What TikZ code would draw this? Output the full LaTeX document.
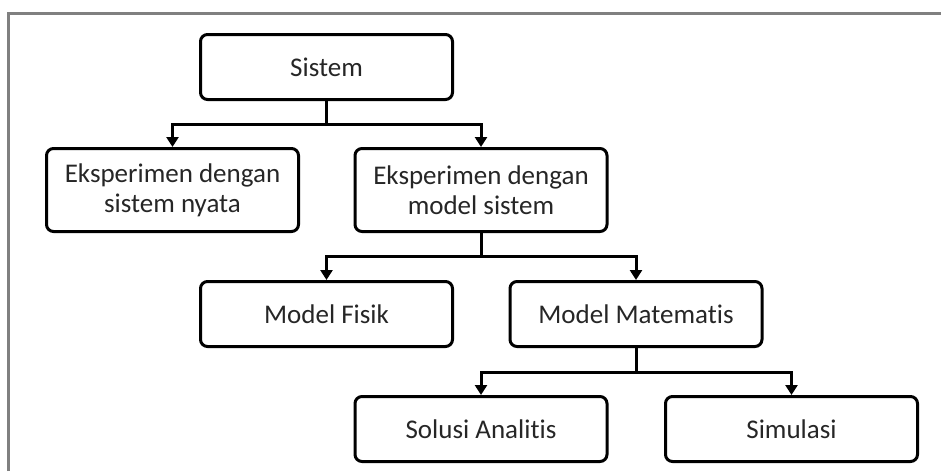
\documentclass[tikz,border=0pt]{standalone}
\usepackage{fontspec}
\setmainfont[Ligatures={NoCommon}]{Carlito}
\usetikzlibrary{arrows.meta}
\begin{document}
\begin{tikzpicture}[x=1pt,y=1pt,
  box/.style={draw=black, line width=3pt, rounded corners=7pt, minimum width=252pt,
    inner sep=0pt, align=center, text=black!85, font=\fontsize{27}{30}\selectfont},
  conn/.style={line width=3pt, -{Triangle[width=12pt,length=10pt]}},
  stem/.style={line width=3pt}]
\useasboundingbox (0,0) rectangle (941,-471);
\draw[line width=3pt, draw=black!50] (8.5,-471) -- (8.5,-13.5) -- (941,-13.5);
\node[box, minimum height=65pt] (sistem) at (326.5,-67) {Sistem};
\node[box, minimum height=83pt] (nyata) at (172.5,-190) {Eksperimen dengan\\sistem nyata};
\node[box, minimum height=83pt] (model) at (481,-190) {Eksperimen dengan\\model sistem};
\node[box, minimum height=65pt] (fisik) at (326.5,-314) {Model Fisik};
\node[box, minimum height=65pt] (mate) at (636,-314) {Model Matematis};
\node[box, minimum height=65pt] (solusi) at (481,-429) {Solusi Analitis};
\node[box, minimum height=65pt] (simul) at (791.5,-429) {Simulasi};
\coordinate (j1) at (326.5,-124);
\coordinate (j2) at (481,-256);
\coordinate (j3) at (636,-372);
\draw[stem] (sistem.south) -- (j1);
\draw[conn] (j1) -| (nyata.north);
\draw[conn] (j1) -| (model.north);
\draw[stem] (model.south) -- (j2);
\draw[conn] (j2) -| (fisik.north);
\draw[conn] (j2) -| (mate.north);
\draw[stem] (mate.south) -- (j3);
\draw[conn] (j3) -| (solusi.north);
\draw[conn] (j3) -| (simul.north);
\end{tikzpicture}
\end{document}
